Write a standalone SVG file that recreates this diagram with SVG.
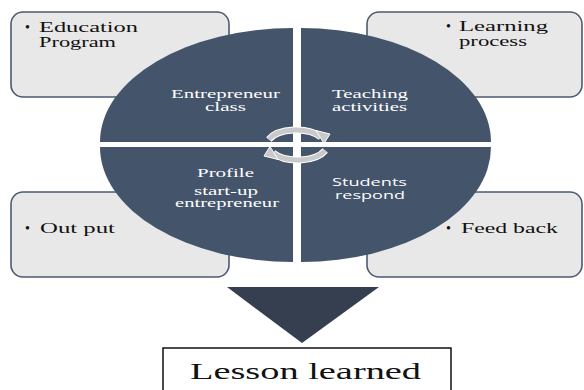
<svg xmlns="http://www.w3.org/2000/svg" width="584" height="390" viewBox="0 0 584 390">
<style>
.box{fill:#e8e8e8;stroke:#4b5b72;stroke-width:1.6}
.q{fill:#44546a}
.bt{font-family:"Liberation Serif","DejaVu Serif","Times New Roman",serif;font-size:14px;fill:#111}
.wt{font-family:"Liberation Serif","DejaVu Serif","Times New Roman",serif;font-size:11.5px;fill:#ffffff}
.ws{font-family:"Open Sans","Liberation Sans",Arial,sans-serif;font-size:10.5px;fill:#ffffff}
.ll{font-family:"Liberation Serif","DejaVu Serif","Times New Roman",serif;font-size:24px;fill:#111}
.cyc{fill:none;stroke:#c9c9c9;stroke-width:5}
.cycw{fill:none;stroke:#ffffff;stroke-width:7}
.ah{fill:#c9c9c9;stroke:#ffffff;stroke-width:1}
</style>
<rect width="584" height="390" fill="#ffffff"/>
<g id="box-education">
<rect class="box" x="11" y="12" width="218" height="85" rx="12"/>
<text class="bt" x="25" y="32">•</text>
<text class="bt" x="39" y="32" textLength="99" lengthAdjust="spacingAndGlyphs">Education</text>
<text class="bt" x="39" y="47" textLength="77" lengthAdjust="spacingAndGlyphs">Program</text>
</g>
<g id="box-learning">
<rect class="box" x="367" y="12" width="215" height="85" rx="12"/>
<text class="bt" x="446" y="31">•</text>
<text class="bt" x="459" y="31" textLength="89" lengthAdjust="spacingAndGlyphs">Learning</text>
<text class="bt" x="459" y="46" textLength="68" lengthAdjust="spacingAndGlyphs">process</text>
</g>
<g id="box-output">
<rect class="box" x="11" y="192" width="218" height="85" rx="12"/>
<text class="bt" x="25" y="233">•</text>
<text class="bt" x="40" y="233" textLength="75" lengthAdjust="spacingAndGlyphs">Out put</text>
</g>
<g id="box-feedback">
<rect class="box" x="367" y="192" width="215" height="85" rx="12"/>
<text class="bt" x="446" y="233">•</text>
<text class="bt" x="461" y="233" textLength="97" lengthAdjust="spacingAndGlyphs">Feed back</text>
</g>
<g id="q-entrepreneur-class">
<path class="q" d="M293,142 L100,142 A193,114 0 0 1 293,28 Z"/>
<text class="wt" x="171" y="98" textLength="109" lengthAdjust="spacingAndGlyphs">Entrepreneur</text>
<text class="wt" x="205" y="111" textLength="41" lengthAdjust="spacingAndGlyphs">class</text>
</g>
<g id="q-teaching-activities">
<path class="q" d="M301,142 L301,28 A190,114 0 0 1 491,142 Z"/>
<text class="wt" x="332" y="98" textLength="76" lengthAdjust="spacingAndGlyphs">Teaching</text>
<text class="wt" x="332" y="111" textLength="75" lengthAdjust="spacingAndGlyphs">activities</text>
</g>
<g id="q-profile">
<path class="q" d="M293,147 L293,262 A193,115 0 0 1 100,147 Z"/>
<text class="wt" x="197" y="177" textLength="57" lengthAdjust="spacingAndGlyphs">Profile</text>
<text class="wt" x="194" y="195" textLength="64" lengthAdjust="spacingAndGlyphs">start-up</text>
<text class="wt" x="175" y="207" textLength="104" lengthAdjust="spacingAndGlyphs">entrepreneur</text>
</g>
<g id="q-students-respond">
<path class="q" d="M301,147 L491,147 A190,115 0 0 1 301,262 Z"/>
<text class="ws" x="332" y="185.5" textLength="75" lengthAdjust="spacingAndGlyphs">Students</text>
<text class="ws" x="335" y="198.5" textLength="70" lengthAdjust="spacingAndGlyphs">respond</text>
</g>
<g id="connectors">
<path class="cycw" d="M268.8,139.5 A30,16 0 0 1 321,137"/>
<path class="cyc" d="M268.8,139.5 A30,16 0 0 1 321,137"/>
<polygon class="ah" points="316,130.5 330,134 324,143.5"/>
<path class="cycw" d="M325.2,150.5 A30,16 0 0 1 273,153"/>
<path class="cyc" d="M325.2,150.5 A30,16 0 0 1 273,153"/>
<polygon class="ah" points="278,159.5 264,156 270,146.5"/>
<polygon fill="#353f4f" points="227,287 379,287 302,343"/>
</g>
<g id="lesson-learned">
<rect x="163" y="348" width="288" height="44" fill="#ffffff" stroke="#111" stroke-width="1.5"/>
<text class="ll" x="190" y="379" textLength="231" lengthAdjust="spacingAndGlyphs">Lesson learned</text>
</g>
</svg>
